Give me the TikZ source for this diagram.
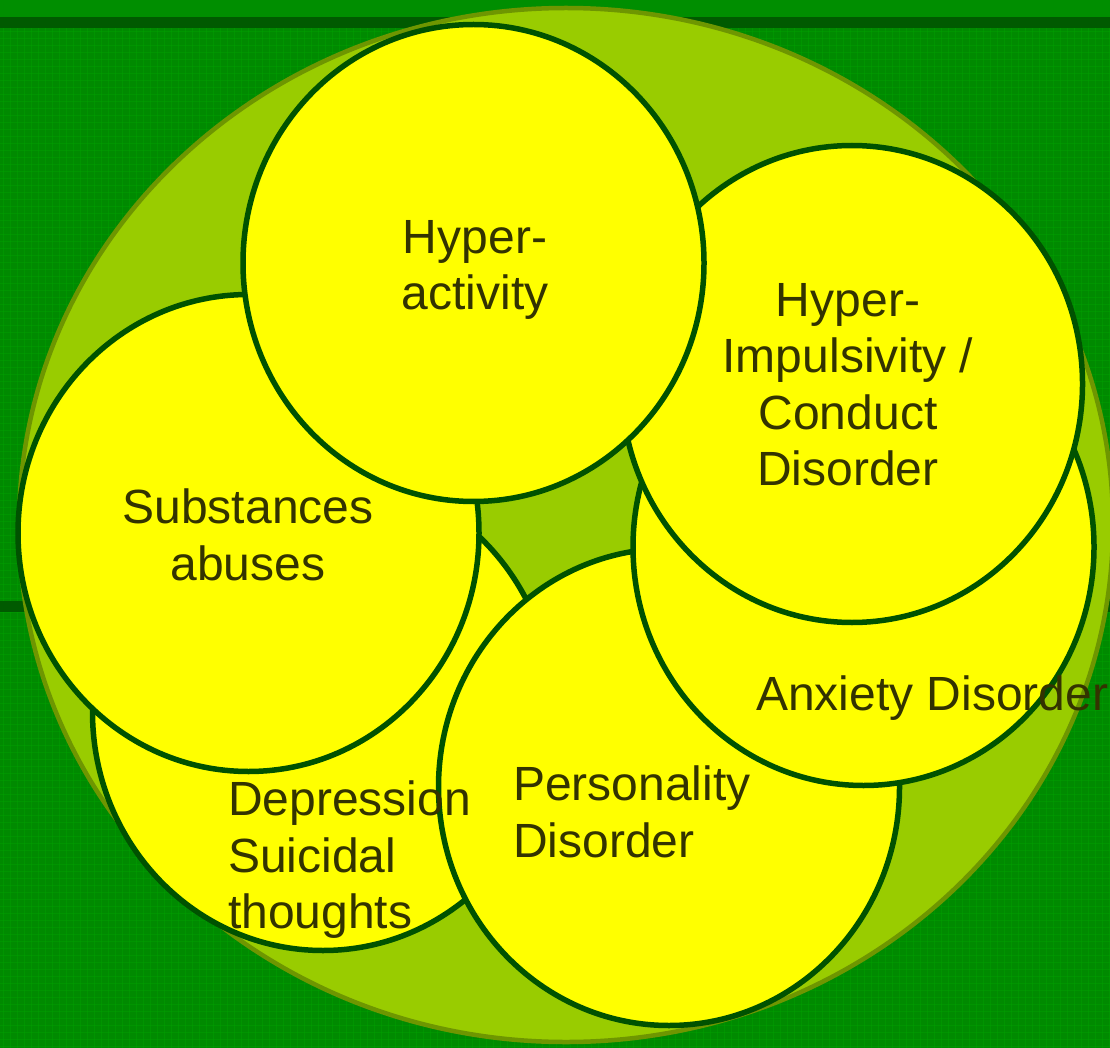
\documentclass[tikz,border=0pt]{standalone}
\usepackage{fontspec}
\setmainfont{Liberation Sans}
\usetikzlibrary{shapes.geometric}
\definecolor{bggreen}{HTML}{008A00}
\definecolor{gridgreen}{HTML}{00A800}
\definecolor{topgreen}{HTML}{008E00}
\definecolor{darkband}{HTML}{005A00}
\definecolor{limefill}{HTML}{99CC00}
\definecolor{limeedge}{HTML}{6E9600}
\definecolor{bubblefill}{HTML}{FFFF00}
\definecolor{bubbleedge}{HTML}{005200}
\definecolor{txtcol}{HTML}{333300}
\tikzset{
  bubble/.style={ellipse, draw=bubbleedge, fill=bubblefill, line width=5.5pt,
    minimum width=461pt, minimum height=477pt, inner sep=0pt},
  frameshape/.style={ellipse, draw=limeedge, fill=limefill, line width=4.5pt,
    minimum width=1094pt, minimum height=1034pt, inner sep=0pt},
  lbl/.style={text=txtcol, font=\fontsize{48}{56.5}\selectfont, inner sep=0pt, anchor=north},
  gridln/.style={draw=gridgreen, line width=0.8pt, opacity=0.35}
}
\begin{document}
\begin{tikzpicture}[x=1pt,y=-1pt]
\useasboundingbox (0,0) rectangle (1110,1048);
\clip (0,0) rectangle (1110,1048);
% background
\fill[bggreen] (0,0) rectangle (1110,1048);
\foreach \gx in {3,10,...,1110} {\draw[gridln] (\gx,28) -- (\gx,1048);}
\foreach \gy in {31,38,...,1048} {\draw[gridln] (0,\gy) -- (1110,\gy);}
\fill[topgreen] (0,0) rectangle (1110,17);
\fill[darkband] (0,17) rectangle (1110,28);
\fill[darkband] (0,601) rectangle (1110,612);
% big frame
\node[frameshape] (frame) at (566,525) {};
% bubbles, back to front
\node[bubble] (de) at (323,712) {};
\node[bubble] (pe) at (669,787) {};
\node[bubble] (an) at (863.5,547) {};
\node[bubble] (hi) at (852,384) {};
\node[bubble] (su) at (248.5,533) {};
\node[bubble] (ha) at (473.5,263) {};
% labels
\node[lbl, align=center] (tha) at (475,220) {Hyper-\\activity};
\node[lbl, align=center] (thi) at (848,283) {Hyper-\\Impulsivity /\\Conduct\\Disorder};
\node[lbl, align=center] (tsu) at (248,489) {Substances\\abuses};
\node[lbl, anchor=north west] (tan) at (756,676) {Anxiety Disorder};
\node[lbl, anchor=north west, align=left] (tpe) at (513,766) {Personality\\Disorder};
\node[lbl, anchor=north west, align=left] (tde) at (228,781) {Depression\\Suicidal\\thoughts};
\end{tikzpicture}
\end{document}
